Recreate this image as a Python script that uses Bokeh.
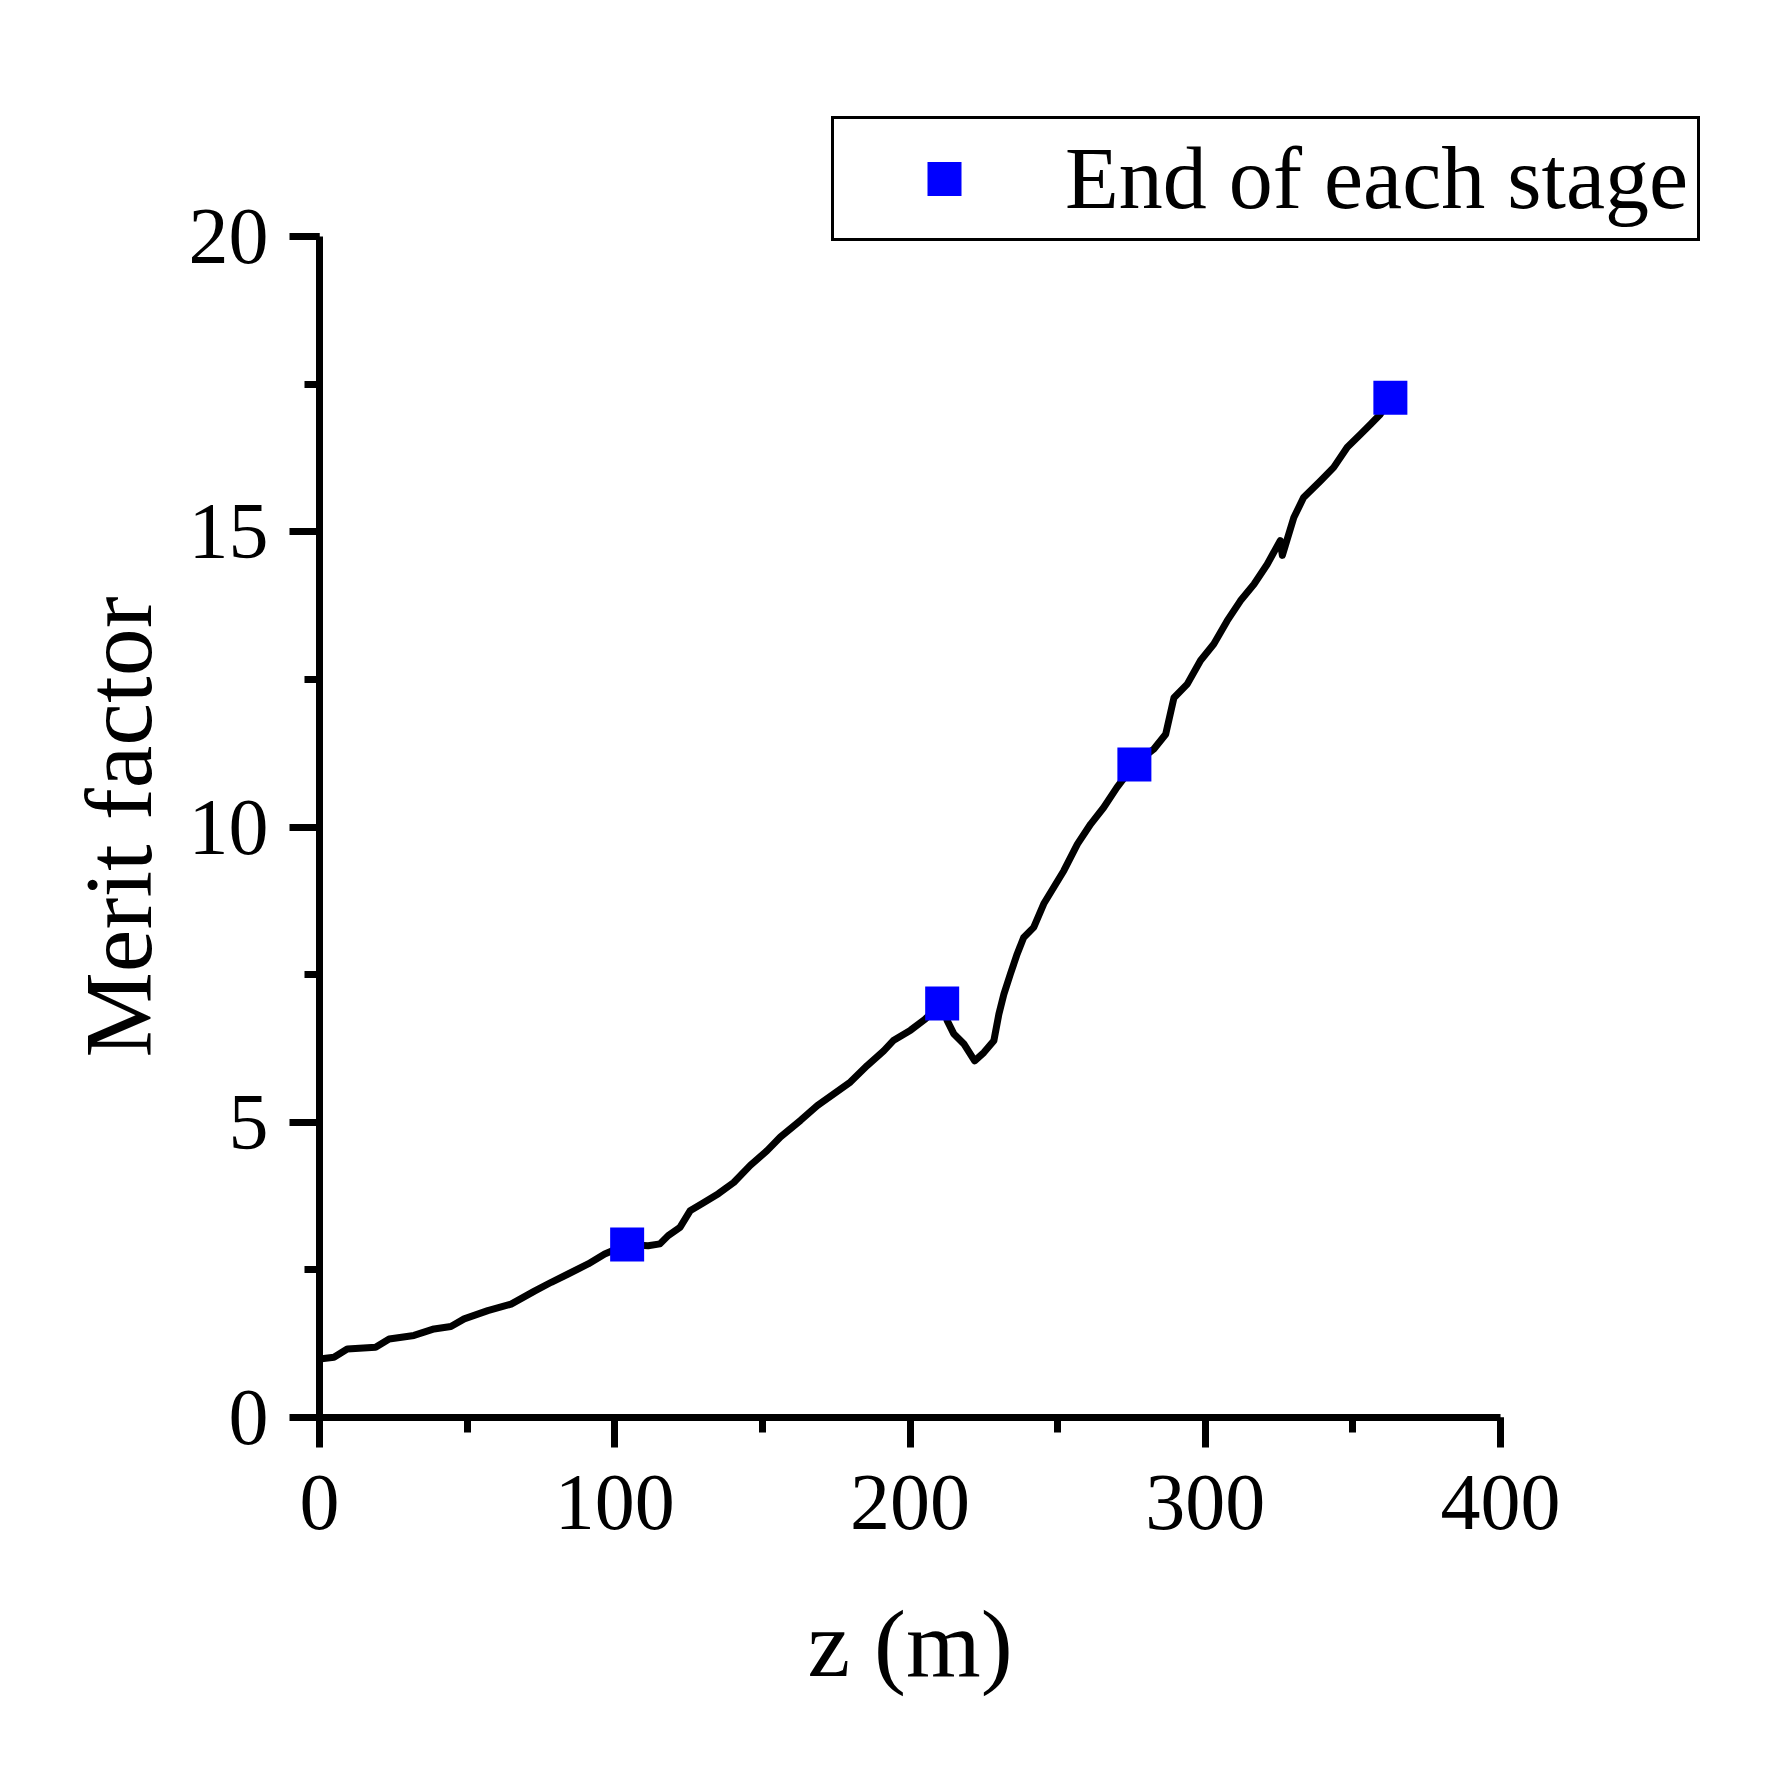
from bokeh.plotting import figure
from bokeh.models import Range1d, SingleIntervalTicker, Legend, LegendItem, ColumnDataSource, Title
from bokeh.embed import file_html
from bokeh.resources import INLINE

# ---- data ----
z_m = [0.0, 4.9, 9.4, 19.0, 23.6, 32.0, 38.8, 44.5, 49.0, 57.0,
       64.9, 72.8, 78.5, 84.2, 91.0, 96.6, 104.2, 111.3, 115.3, 118.1,
       122.1, 125.5, 129.5, 135.1, 140.3, 145.9, 151.6, 156.1, 162.9, 168.6,
       174.2, 179.8, 185.5, 191.1, 194.5, 200.2, 205.2, 210.9, 212.6, 214.8,
       218.2, 221.9, 225.0, 228.4, 230.1, 231.8, 234.0, 236.3, 238.5, 241.9,
       245.3, 248.7, 252.1, 256.7, 261.2, 265.6, 270.1, 276.0, 282.6, 286.6,
       289.4, 293.9, 298.4, 302.9, 307.4, 311.9, 316.5, 321.0, 325.4, 326.1,
       330.0, 333.3, 339.0, 343.5, 348.1, 352.6, 356.0, 359.3, 362.7]
merit = [0.99, 1.02, 1.16, 1.19, 1.33, 1.39, 1.50, 1.54, 1.67, 1.81,
         1.92, 2.14, 2.29, 2.43, 2.60, 2.77, 2.93, 2.91, 2.94, 3.08,
         3.22, 3.50, 3.62, 3.79, 3.98, 4.27, 4.52, 4.75, 5.03, 5.28,
         5.48, 5.68, 5.96, 6.21, 6.39, 6.56, 6.75, 7.01, 6.72, 6.50,
         6.33, 6.04, 6.18, 6.38, 6.83, 7.17, 7.51, 7.85, 8.13, 8.30,
         8.70, 8.98, 9.26, 9.71, 10.05, 10.33, 10.67, 11.06, 11.32, 11.57,
         12.19, 12.42, 12.82, 13.10, 13.49, 13.83, 14.11, 14.45, 14.85, 14.60,
         15.24, 15.58, 15.86, 16.09, 16.43, 16.65, 16.82, 16.99, 17.27]

stage_z = [104.2, 210.9, 276.0, 362.7]
stage_merit = [2.93, 7.01, 11.06, 17.27]

legend_label = "End of each stage"
x_title = "z (m)"
y_title = "Merit factor"

FONT = "Liberation Serif"

# axis extents (data); the frame is a little larger to hold the legend
X_LO, X_HI = 0, 400
Y_LO, Y_HI = 0, 20
X_FRAME_HI = X_HI * (1755 - 319) / (1500 - 319)
Y_FRAME_HI = Y_HI * (1417 - 100) / (1417 - 236)

p = figure(width=1755, height=1769, output_backend="svg", toolbar_location=None,
           x_range=Range1d(X_LO, X_FRAME_HI), y_range=Range1d(Y_LO, Y_FRAME_HI),
           min_border_left=319, min_border_right=0,
           min_border_top=100, min_border_bottom=352)
p.outline_line_color = None
p.grid.visible = False
p.background_fill_color = "white"
p.border_fill_color = "white"

p.xaxis.ticker = SingleIntervalTicker(interval=100, num_minor_ticks=2)
p.yaxis.ticker = SingleIntervalTicker(interval=5, num_minor_ticks=2)
p.xaxis.bounds = (X_LO, X_HI)
p.yaxis.bounds = (Y_LO, Y_HI)

for ax in (p.xaxis, p.yaxis):
    ax.axis_line_width = 7
    ax.axis_line_color = "black"
    ax.major_tick_line_width = 7
    ax.minor_tick_line_width = 7
    ax.major_tick_line_color = "black"
    ax.minor_tick_line_color = "black"
    ax.major_tick_out = 30
    ax.major_tick_in = 0
    ax.minor_tick_out = 15
    ax.minor_tick_in = 0
    ax.major_label_text_font = FONT
    ax.major_label_text_font_size = "80px"
    ax.major_label_text_color = "black"

p.xaxis.major_label_standoff = 28
p.yaxis.major_label_standoff = 21

# axis titles as side-panel titles, centred on the axis extents
xt = Title(text=x_title, align="left", offset=488, standoff=116, vertical_align="top",
           text_font=FONT, text_font_size="96px", text_font_style="normal",
           text_color="black")
p.add_layout(xt, "below")
yt = Title(text=y_title, align="left", offset=360, standoff=28, vertical_align="bottom",
           text_font=FONT, text_font_size="96px", text_font_style="normal",
           text_color="black")
p.add_layout(yt, "left")

src = ColumnDataSource(dict(z=z_m, m=merit))
p.line("z", "m", source=src, line_color="black", line_width=7, line_join="round")

ssrc = ColumnDataSource(dict(z=stage_z, m=stage_merit))
sq = p.scatter("z", "m", source=ssrc, marker="square", size=34,
               fill_color="#0000FF", line_color="#0000FF", line_width=0)

legend = Legend(items=[LegendItem(label=legend_label, renderers=[sq])],
                location=(512, 1176))
legend.border_line_color = "black"
legend.border_line_alpha = 1.0
legend.border_line_width = 3
legend.background_fill_color = "white"
legend.background_fill_alpha = 1.0
legend.padding = 9
legend.margin = 0
legend.spacing = 0
legend.glyph_width = 202
legend.glyph_height = 85
legend.label_standoff = 20
legend.label_text_font = FONT
legend.label_text_font_size = "88px"
legend.label_text_color = "black"
p.add_layout(legend)

open("out.html", "w").write(file_html(p, INLINE))
